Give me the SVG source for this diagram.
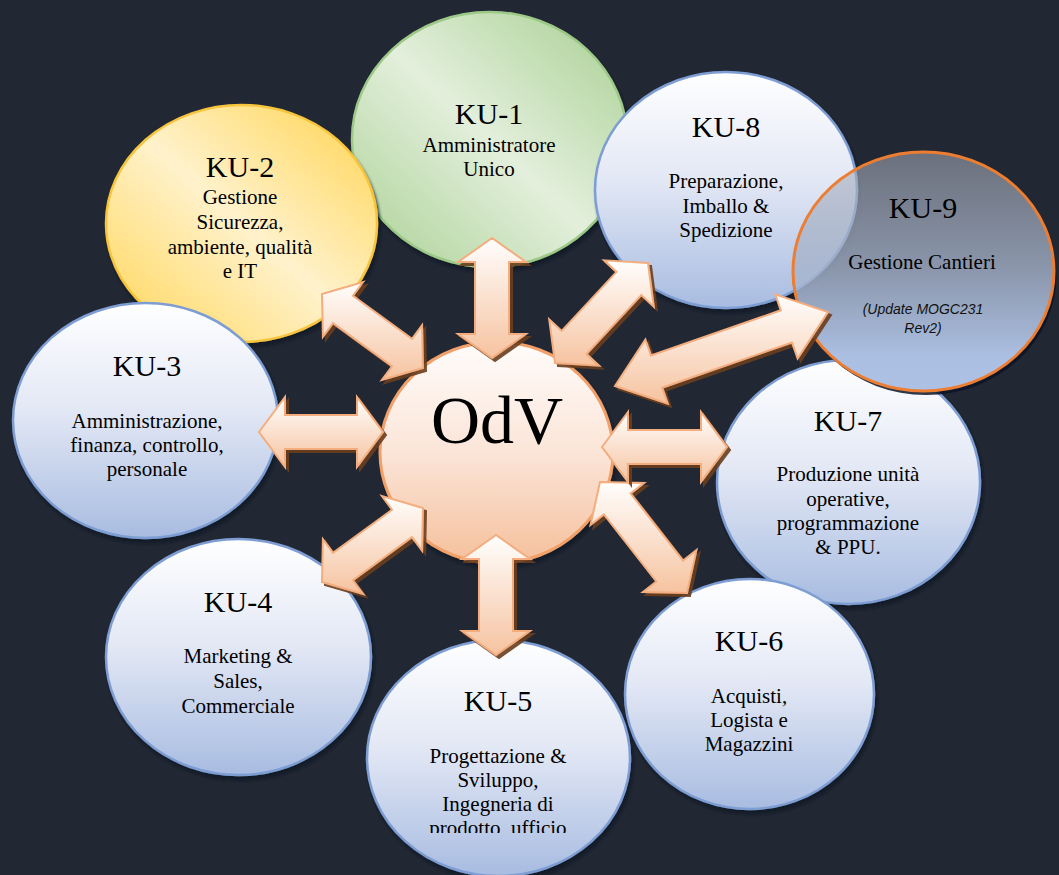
<svg xmlns="http://www.w3.org/2000/svg" width="1059" height="875" viewBox="0 0 1059 875">
<defs>
<style>
.t{font-family:"Liberation Serif","Times New Roman",serif;text-anchor:middle;fill:#000}
.h{font-size:30px}
.b{font-size:21px}
.o{font-size:68px}
.it{font-family:"Liberation Sans",Arial,sans-serif;font-style:italic;font-size:14px;text-anchor:middle;fill:#111}
.blue{fill:url(#gBlue);stroke:#7d9dd3;stroke-width:2.5}
.arr{fill:url(#gArr);stroke:#f3ad7e;stroke-width:2;stroke-linejoin:miter;filter:url(#ash)}
.cs{filter:url(#csh)}
</style>
<linearGradient id="gBlue" x1="0" y1="0" x2="0" y2="1">
<stop offset="0" stop-color="#ffffff"/>
<stop offset="0.45" stop-color="#e3e8f5"/>
<stop offset="1" stop-color="#a8bce1"/>
</linearGradient>
<linearGradient id="gGreen" x1="1" y1="0" x2="0" y2="1">
<stop offset="0.1" stop-color="#b3d59f"/>
<stop offset="0.5" stop-color="#e3efdc"/>
<stop offset="0.92" stop-color="#b3d59f"/>
</linearGradient>
<linearGradient id="gYellow" x1="1" y1="0" x2="0" y2="1">
<stop offset="0.1" stop-color="#ffd966"/>
<stop offset="0.5" stop-color="#fff2cc"/>
<stop offset="0.92" stop-color="#ffd966"/>
</linearGradient>
<linearGradient id="gOdv" x1="0" y1="0" x2="0" y2="1">
<stop offset="0" stop-color="#fffcfb"/>
<stop offset="0.5" stop-color="#fbe5d8"/>
<stop offset="1" stop-color="#f5c09c"/>
</linearGradient>
<linearGradient id="gArr" x1="0" y1="0" x2="0" y2="1">
<stop offset="0" stop-color="#fffefd"/>
<stop offset="1" stop-color="#f6c3a0"/>
</linearGradient>
<linearGradient id="gK9" x1="0" y1="0" x2="0" y2="1">
<stop offset="0" stop-color="#a7acb8" stop-opacity="0.55"/>
<stop offset="0.5" stop-color="#a6b3cb" stop-opacity="0.8"/>
<stop offset="0.85" stop-color="#abbfe2" stop-opacity="1"/>
<stop offset="1" stop-color="#adc1e4" stop-opacity="1"/>
</linearGradient>
<filter id="csh" x="-10%" y="-10%" width="125%" height="125%">
<feDropShadow dx="2" dy="4" stdDeviation="1.5" flood-color="#0a1428" flood-opacity="0.85"/>
</filter>
<filter id="ash" x="-10%" y="-10%" width="130%" height="130%">
<feDropShadow dx="3" dy="3" stdDeviation="0.6" flood-color="#6b3c1e" flood-opacity="0.9"/>
</filter>
<mask id="k9mask">
<rect x="0" y="0" width="1059" height="875" fill="#fff"/>
<ellipse cx="923.5" cy="271.5" rx="130.5" ry="119.5" fill="#000"/>
</mask>
<clipPath id="k5clip">
<rect x="360" y="640" width="280" height="193"/>
</clipPath>
</defs>

<rect x="0" y="0" width="1059" height="875" fill="#212733"/>

<g id="node-ku1">
<ellipse class="cs" cx="489.5" cy="139.5" rx="137.5" ry="127.5" fill="url(#gGreen)" stroke="#9cc987" stroke-width="2.5"/>
<text class="t h" x="489" y="124">KU-1</text>
<text class="t b" x="489" y="152">Amministratore</text>
<text class="t b" x="489" y="176">Unico</text>
</g>

<g id="node-ku2">
<ellipse class="cs" cx="241.5" cy="223.5" rx="135.5" ry="118.5" fill="url(#gYellow)" stroke="#f7c53c" stroke-width="2.5"/>
<text class="t h" x="240" y="177">KU-2</text>
<text class="t b" x="240" y="204">Gestione</text>
<text class="t b" x="240" y="229">Sicurezza,</text>
<text class="t b" x="240" y="254">ambiente, qualità</text>
<text class="t b" x="240" y="278">e IT</text>
</g>

<g id="node-ku3">
<ellipse class="cs blue" cx="145.5" cy="420.5" rx="132.5" ry="117.5"/>
<text class="t h" x="147" y="376">KU-3</text>
<text class="t b" x="147" y="428">Amministrazione,</text>
<text class="t b" x="147" y="452">finanza, controllo,</text>
<text class="t b" x="147" y="476">personale</text>
</g>

<g id="node-ku4">
<ellipse class="cs blue" cx="238.5" cy="657" rx="132.5" ry="118"/>
<text class="t h" x="238" y="612">KU-4</text>
<text class="t b" x="238" y="663">Marketing &amp;</text>
<text class="t b" x="238" y="688">Sales,</text>
<text class="t b" x="238" y="713">Commerciale</text>
</g>

<g id="node-ku5">
<ellipse class="cs blue" cx="498.5" cy="758" rx="131.5" ry="118"/>
<text class="t h" x="498" y="711">KU-5</text>
<g clip-path="url(#k5clip)">
<text class="t b" x="498" y="763">Progettazione &amp;</text>
<text class="t b" x="498" y="787">Sviluppo,</text>
<text class="t b" x="498" y="811">Ingegneria di</text>
<text class="t b" x="498" y="835">prodotto, ufficio</text>
</g>
</g>

<g id="node-ku7">
<ellipse class="cs blue" cx="848.5" cy="482" rx="131.5" ry="122"/>
<text class="t h" x="848" y="431">KU-7</text>
<text class="t b" x="848" y="481">Produzione unità</text>
<text class="t b" x="848" y="506">operative,</text>
<text class="t b" x="848" y="530">programmazione</text>
<text class="t b" x="848" y="554">&amp; PPU.</text>
</g>

<g id="node-ku6">
<ellipse class="cs blue" cx="749.5" cy="694" rx="124.5" ry="115"/>
<text class="t h" x="749" y="651">KU-6</text>
<text class="t b" x="749" y="703">Acquisti,</text>
<text class="t b" x="749" y="727">Logista e</text>
<text class="t b" x="749" y="751">Magazzini</text>
</g>

<g id="node-ku8">
<ellipse class="cs blue" cx="726" cy="190" rx="131" ry="118"/>
<text class="t h" x="726" y="137">KU-8</text>
<text class="t b" x="726" y="188">Preparazione,</text>
<text class="t b" x="726" y="213">Imballo &amp;</text>
<text class="t b" x="726" y="237">Spedizione</text>
</g>

<g id="node-ku9">
<ellipse cx="926" cy="275.5" rx="130.5" ry="119.5" fill="#0a1428" fill-opacity="0.85" mask="url(#k9mask)"/>
<ellipse cx="923.5" cy="271.5" rx="130.5" ry="119.5" fill="url(#gK9)" stroke="#ed7d31" stroke-width="3"/>
<text class="t h" x="923" y="218">KU-9</text>
<text class="t b" x="922" y="269">Gestione Cantieri</text>
<text class="it" x="923" y="314">(Update MOGC231</text>
<text class="it" x="923" y="333">Rev2)</text>
</g>

<g id="node-odv">
<ellipse class="cs" cx="496.5" cy="452.5" rx="116.5" ry="110.5" fill="url(#gOdv)" stroke="#f2a06a" stroke-width="3"/>
<text class="t o" x="497" y="443">OdV</text>
</g>

<g id="connectors">
<polygon class="arr" points="492,238 458,262 475,262 475,334 458,334 492,358 526,334 509,334 509,262 526,262"/>
<polygon class="arr" points="322,294 322.9,336.8 333,323.1 392,366.3 381.9,380 423,368 422.1,325.2 412,338.9 353,295.7 363.1,282"/>
<polygon class="arr" points="259,432 285,397 285,415 357,415 357,397 383,432 357,467 357,449 285,449 285,467"/>
<polygon class="arr" points="322,582 322.9,539.2 333,552.9 392,509.7 381.9,496 423,508 422.1,550.8 412,537.1 353,580.3 363.1,594"/>
<polygon class="arr" points="496,535 462,559 479,559 479,631 462,631 496,655 530,631 513,631 513,559 530,559"/>
<polygon class="arr" points="600,482 590.5,525 603.9,514.5 656.3,581.5 642.9,592 687,593 696.5,550 683.1,560.5 630.7,493.5 644.1,483"/>
<polygon class="arr" points="602,447 628,412 628,430 701,430 701,412 727,447 701,482 701,464 628,464 628,482"/>
<polygon class="arr" points="555,363 599,365.7 586.5,354.1 641.3,295.1 653.8,306.7 648,263 604,260.3 616.5,271.9 561.7,330.9 549.2,319.3"/>
<polygon class="arr" points="615,386 667.8,403.7 662.2,387.7 792,342.5 797.6,358.5 828,312 775.2,294.3 780.8,310.3 651,355.5 645.4,339.5"/>
</g>
</svg>
